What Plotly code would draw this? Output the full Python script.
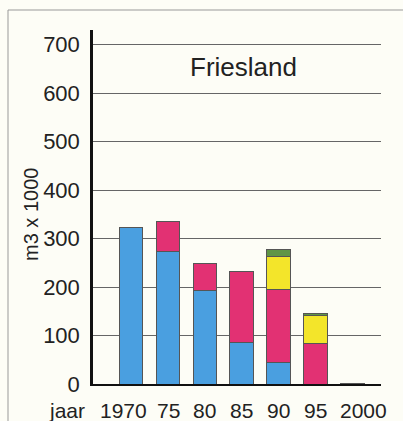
import plotly.graph_objects as go

# Jaren (categorieën) en gestapelde hoeveelheden in m3 x 1000
jaren = ["1970", "75", "80", "85", "90", "95", "2000"]
blauw = [322, 273, 192, 85, 45, 0, 0]
roze = [0, 62, 56, 146, 149, 83, 0]
geel = [0, 0, 0, 0, 69, 58, 0]
groen = [0, 0, 0, 0, 14, 5, 2]
y_ticks = [0, 100, 200, 300, 400, 500, 600, 700]

series = [
    ("blauw", blauw, "#4a9fe0"),
    ("roze", roze, "#e23173"),
    ("geel", geel, "#f3e52a"),
    ("groen", groen, "#5f9546"),
]

posities = list(range(len(jaren)))
# horizontale verschuiving van de jaarlabels (pixels) t.o.v. het staafmidden
label_shift = [-8, 1, 0, 0, 0, 0, 11]

fig = go.Figure()
for naam, waarden, kleur in series:
    fig.add_trace(go.Bar(
        x=posities, y=waarden, name=naam,
        marker=dict(color=kleur, line=dict(color="#555555", width=1)),
        width=0.64, showlegend=False,
    ))

font_main = "Liberation Sans, Arial, sans-serif"
tekstkleur = "#222222"

# Plotgebied in pixels
L, R, T, B = 93, 22, 30, 37
W, H = 403, 421
pw = W - L - R
ph = H - T - B


def px_x(px):
    return (px - L) / pw


def px_y(py):
    return (H - B - py) / ph


annotaties = [
    dict(text="Friesland", x=px_x(243), y=px_y(67), xref="paper", yref="paper",
         xanchor="center", yanchor="middle", showarrow=False,
         font=dict(size=26, color=tekstkleur)),
    dict(text="jaar", x=px_x(67), y=px_y(410), xref="paper", yref="paper",
         xanchor="center", yanchor="middle", showarrow=False,
         font=dict(size=21, color=tekstkleur)),
    dict(text="m3 x 1000", x=px_x(31), y=px_y(215), xref="paper", yref="paper",
         xanchor="center", yanchor="middle", textangle=-90, showarrow=False,
         font=dict(size=20, color=tekstkleur)),
]
for pos, label, dx in zip(posities, jaren, label_shift):
    annotaties.append(dict(
        text=label, x=pos, y=px_y(410), xref="x", yref="paper",
        xanchor="center", yanchor="middle", xshift=dx, showarrow=False,
        font=dict(size=21, color=tekstkleur),
    ))

fig.update_layout(
    barmode="stack",
    width=W, height=H,
    margin=dict(l=L, r=R, t=T, b=B),
    paper_bgcolor="#fdfdf6",
    plot_bgcolor="#fdfdf6",
    font=dict(family=font_main, size=21, color=tekstkleur),
    xaxis=dict(
        range=[-1.03, 6.77],
        tickvals=posities, showticklabels=False, automargin=False,
        showgrid=False, zeroline=False,
        showline=True, linecolor="#111111", linewidth=2,
        ticks="",
    ),
    yaxis=dict(
        range=[0, 730],
        tickvals=y_ticks, automargin=False,
        showgrid=True, gridcolor="#666666", gridwidth=1,
        zeroline=False,
        showline=True, linecolor="#111111", linewidth=2.5,
        ticks="", ticklabelstandoff=6,
        tickfont=dict(size=22),
    ),
    annotations=annotaties,
    shapes=[
        dict(type="rect", xref="paper", yref="paper",
             x0=px_x(8), y0=px_y(440), x1=px_x(420), y1=px_y(10),
             line=dict(color="#999999", width=1), fillcolor="rgba(0,0,0,0)",
             layer="below"),
    ],
)

fig.write_html("out.html")
